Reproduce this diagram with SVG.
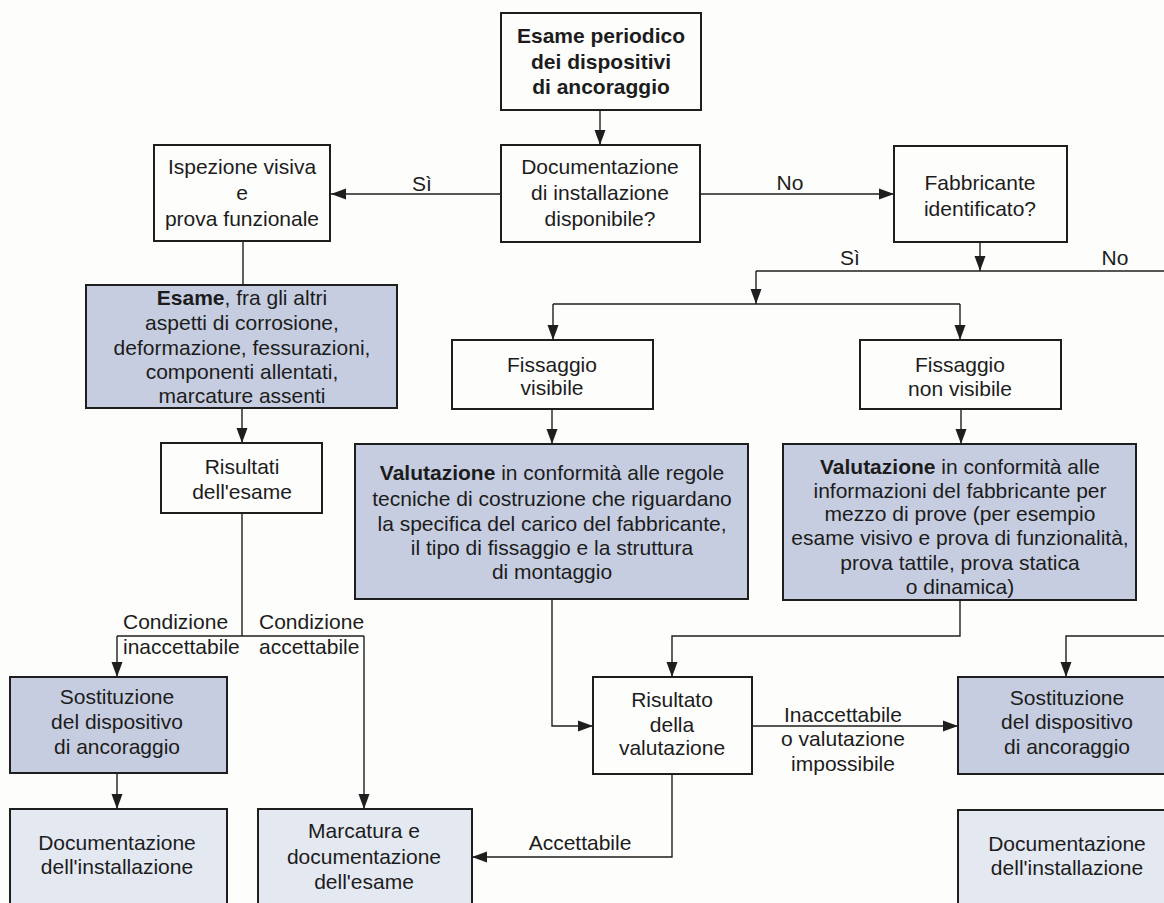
<svg xmlns="http://www.w3.org/2000/svg" width="1164" height="903" viewBox="0 0 1164 903">
<defs>
<marker id="ah" markerUnits="userSpaceOnUse" markerWidth="16" markerHeight="12" refX="15" refY="6" orient="auto">
<path d="M0,0.5 L15,6 L0,11.5 Z" fill="#1e1e1e"/>
</marker>
</defs>
<style>
text{font-family:"Liberation Sans",Arial,sans-serif;font-size:21px;fill:#1c1c1c;text-anchor:middle}
.b{font-weight:bold}
.st{text-anchor:start}
.box{fill:#fdfdfc;stroke:#1e1e1e;stroke-width:2}
.sh{fill:#c6cde0;stroke:#1e1e1e;stroke-width:2}
.lt{fill:#e4e8f1;stroke:#1e1e1e;stroke-width:2}
.c{fill:none;stroke:#1e1e1e;stroke-width:1.4}
.a{marker-end:url(#ah)}
</style>
<rect width="1164" height="903" fill="#fdfdfb"/>
<g id="connectors">
<path class="c a" d="M600,110 V145"/>
<path class="c a" d="M501,194 H331"/>
<path class="c a" d="M700,194 H894"/>
<path class="c" d="M243,241 V285"/>
<path class="c a" d="M242,408 V443"/>
<path class="c" d="M242,513 V636"/>
<path class="c" d="M117,636 H364"/>
<path class="c a" d="M117,636 V677"/>
<path class="c a" d="M364,636 V809"/>
<path class="c a" d="M117,773 V809"/>
<path class="c a" d="M980,242 V271"/>
<path class="c" d="M756,271 H1164"/>
<path class="c a" d="M756,271 V304"/>
<path class="c" d="M553,304 H960"/>
<path class="c a" d="M553,304 V340"/>
<path class="c a" d="M960,304 V340"/>
<path class="c a" d="M552,409 V444"/>
<path class="c a" d="M961,409 V444"/>
<path class="c a" d="M552,599 V726 H593"/>
<path class="c a" d="M960,600 V636 H672 V677"/>
<path class="c a" d="M752,726 H958"/>
<path class="c a" d="M1164,636 H1066 V677"/>
<path class="c a" d="M672,774 V857 H472"/>
<text x="422" y="191">Sì</text>
<text x="790" y="190">No</text>
<text x="850" y="265">Sì</text>
<text x="1115" y="265">No</text>
<text class="st" x="123" y="629">Condizione</text>
<text class="st" x="123" y="654">inaccettabile</text>
<text class="st" x="259" y="629">Condizione</text>
<text class="st" x="259" y="654">accettabile</text>
<text x="843" y="722">Inaccettabile</text>
<text x="843" y="746">o valutazione</text>
<text x="843" y="771">impossibile</text>
<text x="580" y="850">Accettabile</text>
</g>
<g id="start">
<rect class="box" x="501" y="13" width="200" height="97"/>
<text class="b" x="601" y="43">Esame periodico</text>
<text class="b" x="601" y="69">dei dispositivi</text>
<text class="b" x="601" y="94">di ancoraggio</text>
</g>
<g id="doc-disponibile">
<rect class="box" x="501" y="145" width="199" height="97"/>
<text x="600" y="174">Documentazione</text>
<text x="600" y="200">di installazione</text>
<text x="600" y="226">disponibile?</text>
</g>
<g id="ispezione">
<rect class="box" x="154" y="145" width="176" height="96"/>
<text x="242" y="174">Ispezione visiva</text>
<text x="242" y="200">e</text>
<text x="242" y="226">prova funzionale</text>
</g>
<g id="fabbricante">
<rect class="box" x="894" y="146" width="173" height="96"/>
<text x="980" y="190">Fabbricante</text>
<text x="980" y="216">identificato?</text>
</g>
<g id="esame">
<rect class="sh" x="86" y="285" width="311" height="123"/>
<text x="242" y="305"><tspan class="b">Esame</tspan>, fra gli altri</text>
<text x="242" y="330">aspetti di corrosione,</text>
<text x="242" y="355">deformazione, fessurazioni,</text>
<text x="242" y="379">componenti allentati,</text>
<text x="242" y="403">marcature assenti</text>
</g>
<g id="risultati">
<rect class="box" x="161" y="443" width="161" height="70"/>
<text x="242" y="474">Risultati</text>
<text x="242" y="499">dell'esame</text>
</g>
<g id="fissaggio-visibile">
<rect class="box" x="452" y="340" width="201" height="69"/>
<text x="552" y="372">Fissaggio</text>
<text x="552" y="395">visibile</text>
</g>
<g id="fissaggio-non-visibile">
<rect class="box" x="860" y="340" width="201" height="69"/>
<text x="960" y="372">Fissaggio</text>
<text x="960" y="396">non visibile</text>
</g>
<g id="valutazione-sx">
<rect class="sh" x="355" y="444" width="393" height="155"/>
<text x="552" y="480"><tspan class="b">Valutazione</tspan> in conformità alle regole</text>
<text x="552" y="506">tecniche di costruzione che riguardano</text>
<text x="552" y="531">la specifica del carico del fabbricante,</text>
<text x="552" y="555">il tipo di fissaggio e la struttura</text>
<text x="552" y="579">di montaggio</text>
</g>
<g id="valutazione-dx">
<rect class="sh" x="783" y="444" width="353" height="156"/>
<text x="960" y="474"><tspan class="b">Valutazione</tspan> in conformità alle</text>
<text x="960" y="498">informazioni del fabbricante per</text>
<text x="960" y="521">mezzo di prove (per esempio</text>
<text x="960" y="545">esame visivo e prova di funzionalità,</text>
<text x="960" y="570">prova tattile, prova statica</text>
<text x="960" y="594">o dinamica)</text>
</g>
<g id="risultato-valutazione">
<rect class="box" x="593" y="677" width="159" height="97"/>
<text x="672" y="707">Risultato</text>
<text x="672" y="732">della</text>
<text x="672" y="755">valutazione</text>
</g>
<g id="sostituzione-sx">
<rect class="sh" x="10" y="677" width="217" height="96"/>
<text x="117" y="704">Sostituzione</text>
<text x="117" y="729">del dispositivo</text>
<text x="117" y="754">di ancoraggio</text>
</g>
<g id="documentazione-sx">
<rect class="lt" x="10" y="809" width="217" height="110"/>
<text x="117" y="850">Documentazione</text>
<text x="117" y="874">dell'installazione</text>
</g>
<g id="marcatura">
<rect class="lt" x="258" y="809" width="214" height="110"/>
<text x="364" y="838">Marcatura e</text>
<text x="364" y="864">documentazione</text>
<text x="364" y="889">dell'esame</text>
</g>
<g id="sostituzione-dx">
<rect class="sh" x="958" y="677" width="220" height="97"/>
<text x="1067" y="705">Sostituzione</text>
<text x="1067" y="729">del dispositivo</text>
<text x="1067" y="754">di ancoraggio</text>
</g>
<g id="documentazione-dx">
<rect class="lt" x="958" y="810" width="220" height="110"/>
<text x="1067" y="851">Documentazione</text>
<text x="1067" y="875">dell'installazione</text>
</g>
</svg>
